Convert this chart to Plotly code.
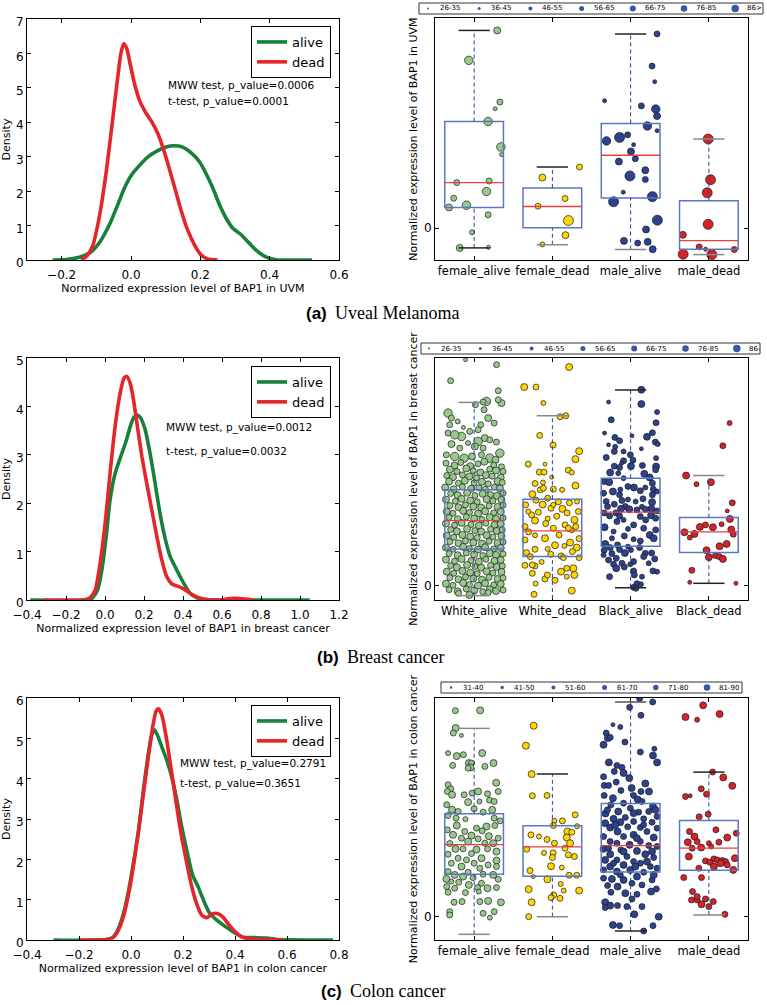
import plotly.graph_objects as go

W, H = 767, 1005

# ======================= DATA =======================
# --- Density curves (x = expression, y = density) ---
uvm_alive_x = [-0.226, -0.1875, -0.149, -0.120, -0.096, -0.077, -0.058, -0.038, -0.019, 0.0, 0.024, 0.048, 0.072, 0.101, 0.125, 0.149, 0.173, 0.197, 0.216, 0.236, 0.255, 0.274, 0.293, 0.317, 0.341, 0.365, 0.389, 0.418, 0.466, 0.522]
uvm_alive_y = [0, 0.01, 0.08, 0.20, 0.44, 0.74, 1.12, 1.61, 2.09, 2.45, 2.74, 2.99, 3.15, 3.28, 3.32, 3.28, 3.12, 2.86, 2.52, 2.09, 1.61, 1.22, 0.93, 0.74, 0.49, 0.25, 0.09, 0.01, 0, 0]
uvm_dead_x = [-0.144, -0.128, -0.111, -0.091, -0.072, -0.053, -0.038, -0.029, -0.021, -0.0125, -0.003, 0.0096, 0.024, 0.043, 0.0625, 0.077, 0.091, 0.106, 0.125, 0.144, 0.163, 0.183, 0.202, 0.221, 0.25]
uvm_dead_y = [0, 0.11, 0.40, 1.27, 2.52, 4.07, 5.33, 6.01, 6.28, 6.15, 5.72, 5.14, 4.65, 4.27, 3.97, 3.68, 3.30, 2.81, 2.14, 1.46, 0.88, 0.44, 0.15, 0.03, 0]

brca_alive_x = [-0.383, -0.110, -0.067, -0.038, -0.016, 0.006, 0.026, 0.052, 0.081, 0.108, 0.132, 0.149, 0.163, 0.180, 0.206, 0.231, 0.257, 0.282, 0.308, 0.334, 0.368, 0.402, 0.436, 0.470, 0.521, 0.623, 1.050]
brca_alive_y = [0, 0, 0.03, 0.21, 0.62, 1.31, 2.07, 2.62, 2.97, 3.28, 3.62, 3.78, 3.82, 3.78, 3.52, 3.03, 2.41, 1.79, 1.28, 0.90, 0.62, 0.36, 0.14, 0.05, 0.01, 0, 0]
brca_dead_x = [-0.315, -0.110, -0.076, -0.050, -0.025, 0.001, 0.026, 0.052, 0.078, 0.098, 0.112, 0.129, 0.146, 0.166, 0.189, 0.214, 0.240, 0.266, 0.291, 0.317, 0.343, 0.376, 0.411, 0.445, 0.479, 0.521, 0.589, 0.641, 0.692, 0.760]
brca_dead_y = [0, 0, 0.05, 0.21, 0.76, 1.59, 2.62, 3.59, 4.28, 4.59, 4.62, 4.48, 4.14, 3.59, 2.97, 2.41, 1.86, 1.31, 0.83, 0.48, 0.33, 0.28, 0.21, 0.12, 0.05, 0.01, 0, 0.03, 0.03, 0]

coad_alive_x = [-0.298, -0.093, -0.067, -0.048, -0.029, -0.010, 0.009, 0.029, 0.048, 0.067, 0.080, 0.089, 0.101, 0.118, 0.137, 0.156, 0.176, 0.195, 0.214, 0.237, 0.259, 0.281, 0.304, 0.329, 0.355, 0.380, 0.406, 0.432, 0.470, 0.521, 0.572, 0.777]
coad_alive_y = [0, 0.01, 0.08, 0.29, 0.66, 1.20, 1.90, 2.73, 3.73, 4.64, 5.09, 5.22, 5.09, 4.80, 4.47, 4.06, 3.48, 2.81, 2.24, 1.61, 1.31, 0.95, 0.65, 0.50, 0.37, 0.26, 0.15, 0.07, 0.06, 0.05, 0.01, 0]
coad_dead_x = [-0.195, -0.093, -0.067, -0.048, -0.029, -0.010, 0.009, 0.029, 0.048, 0.067, 0.084, 0.096, 0.105, 0.118, 0.135, 0.153, 0.172, 0.191, 0.212, 0.232, 0.252, 0.272, 0.291, 0.313, 0.332, 0.352, 0.374, 0.400, 0.425, 0.458, 0.521, 0.585]
coad_dead_y = [0, 0.01, 0.07, 0.25, 0.58, 1.12, 1.82, 2.69, 3.64, 4.55, 5.30, 5.67, 5.73, 5.59, 5.05, 4.30, 3.48, 2.69, 1.99, 1.37, 0.91, 0.62, 0.55, 0.65, 0.66, 0.58, 0.40, 0.21, 0.08, 0.03, 0.01, 0]

density_series = ["alive", "dead"]
uvm_tests = ["MWW test, p_value=0.0006", "t-test, p_value=0.0001"]
brca_tests = ["MWW test, p_value=0.0012", "t-test, p_value=0.0032"]
coad_tests = ["MWW test, p_value=0.2791", "t-test, p_value=0.3651"]

# --- Box plots: summary statistics (expression units) ---
uvm_categories = ["female_alive", "female_dead", "male_alive", "male_dead"]
uvm_q1 = [0.065, 0.001, 0.095, -0.066]
uvm_med = [0.143, 0.068, 0.229, -0.039]
uvm_q3 = [0.335, 0.126, 0.329, 0.086]
uvm_lo = [-0.062, -0.052, -0.067, -0.083]
uvm_hi = [0.621, 0.192, 0.610, 0.280]
uvm_age_bins = ["26-35", "36-45", "46-55", "56-65", "66-75", "76-85", "86>"]

brca_categories = ["White_alive", "White_dead", "Black_alive", "Black_dead"]
brca_q1 = [0.111, 0.088, 0.119, 0.100]
brca_med = [0.196, 0.165, 0.221, 0.162]
brca_q3 = [0.288, 0.260, 0.323, 0.205]
brca_lo = [-0.029, -0.060, -0.005, 0.008]
brca_hi = [0.550, 0.510, 0.587, 0.331]
brca_age_bins = ["26-35", "36-45", "46-55", "56-65", "66-75", "76-85", "86-"]

coad_categories = ["female_alive", "female_dead", "male_alive", "male_dead"]
coad_q1 = [0.127, 0.121, 0.134, 0.139]
coad_med = [0.216, 0.209, 0.213, 0.205]
coad_q3 = [0.308, 0.272, 0.339, 0.288]
coad_lo = [-0.053, 0.000, -0.043, 0.005]
coad_hi = [0.564, 0.427, 0.643, 0.433]
coad_age_bins = ["31-40", "41-50", "51-60", "61-70", "71-80", "81-90"]

# --- Individual samples: jitter (thousandths of a category slot), value (thousandths), age-bin index ---
uvm_fa_jit = [295, -68, 329, 269, 179, 342, 350, -222, 192, 158, -261, -98, -321, 179, -26, -184, 184]
uvm_fa_val = [621, 527, 396, 375, 335, 255, 231, 143, 148, 115, 94, 72, 65, 42, -13, -62, -60]
uvm_fa_age = "45315513353543241"
uvm_fd_jit = [346, -128, 162, -184, 205, 167, -128]
uvm_fd_val = [192, 159, 93, 69, 24, -22, -51]
uvm_fd_age = "3433642"
uvm_ma_jit = [338, 274, 308, -333, 137, 321, 338, 214, 338, -38, -141, -308, 38, 4, 60, -150, 188, -9, 188, -94, 278, -218, 342, 197, -85, 90, 218, 282]
uvm_ma_val = [610, 509, 460, 400, 384, 374, 352, 321, 306, 293, 285, 274, 262, 241, 218, 209, 182, 164, 153, 113, 99, 83, 25, -4, -40, -47, -43, -66]
uvm_ma_age = "3311354513651434463166644344"
uvm_md_jit = [-9, 21, -21, -9, -333, -124, -43, 325, -329, 38]
uvm_md_val = [280, 152, 111, 12, -21, -59, -66, -67, -82, -83]
uvm_md_age = "6666431366"

brca_wa_jit = [-110, 286, -300, 308, 158, 115, 350, 308, 17, 128, -333, -290, 180, -210, 256, -312, 85, -137, 51, -56, -333, -162, -248, 137, 200, 51, 286, -290, -77, 9, 115, -184, 329, -355, -248, -128, -26, 94, 200, 273,
               -360, -250, -170, -50, 50, 130, 250, 350, -310, -220, -100, -10, 80, 200, 280, 370,
               -350, -270, -150, -60, 30, 150, 230, 340, -320, -200, -120, 0, 100, 180, 300, 360,
               -370, -260, -150, -40, 60, 140, 260, 330, -300, -210, -90, 10, 110, 210, 290, 370,
               -360, -240, -160, -50, 40, 160, 240, 350, -310, -200, -110, -10, 90, 190, 300, 370,
               -350, -270, -140, -60, 50, 140, 250, 340, -320, -210, -100, 0, 100, 200, 280, 370,
               -360, -250, -160, -40, 60, 150, 260, 340, -300, -220, -90, 10, 90, 210, 290, 360,
               -350, -260, -150, -50, 40, 160, 240, 350, -310, -200, -110, -10, 100, 190, 300, 370,
               -360, -270, -140, -60, 50, 140, 250, 340, -320, -210, -100, 0, 110, 200, 280, 370,
               -360, -250, -160, -40, 60, 150, 260, 340, -300, -220, -90, 10, 90, 210, 290, 360,
               -350, -260, -150, -50, 40, 160, 240, 350, -310, -200, -110, -10, 100, 190, 300, 370,
               -360, -270, -140, -60, 50, 140, 250, 340, -320, -210, -100, 0, 110, 200, 280, 370,
               -60, -200, 180]
brca_wa_val = [678, 663, 615, 585, 553, 551, 548, 558, 543, 528, 518, 503, 503, 493, 488, 483, 483, 475, 468, 463, 458, 448, 453, 443, 438, 433, 431, 425, 428, 418, 413, 413, 398, 393, 388, 383, 388, 393, 383, 378,
               368, 361, 370, 359, 366, 372, 362, 357, 349, 343, 352, 345, 340, 350, 346, 343,
               331, 326, 333, 328, 324, 332, 329, 325, 313, 308, 315, 309, 312, 306, 314, 310,
               295, 290, 297, 291, 294, 288, 296, 292, 277, 272, 279, 271, 276, 274, 270, 278,
               259, 254, 261, 256, 252, 260, 255, 258, 241, 236, 243, 238, 235, 240, 237, 242,
               223, 218, 225, 220, 217, 224, 219, 222, 205, 200, 207, 202, 199, 206, 201, 204,
               187, 182, 189, 184, 181, 188, 183, 186, 169, 164, 171, 166, 163, 170, 165, 168,
               151, 146, 153, 148, 145, 152, 147, 150, 133, 128, 135, 130, 127, 134, 129, 132,
               115, 110, 117, 112, 109, 116, 111, 114, 97, 92, 99, 94, 91, 98, 93, 96,
               79, 74, 81, 76, 73, 80, 75, 78, 61, 56, 63, 58, 55, 62, 57, 60,
               43, 38, 45, 40, 37, 44, 39, 42, 25, 20, 27, 22, 19, 26, 21, 24,
               7, 2, 9, 4, 1, 8, 3, 6, -11, -16, -9, -14, -17, -10, -15, -12,
               -27, -22, -20]
brca_wa_age = ("1333534333534233313335543534243353554354"
               "3434343343434343" "3434343443434343" "4434343434434343" "4344343434344343"
               "4343443434343443" "4343434434434343" "4344343434344343" "4343443434343443"
               "4343434434434343" "4344343434344343" "4343443434343443" "433")

brca_wd_jit = [214, -359, -209, -115, 98, 171, -162, 9, 342, 295, -308, -94, -167, -107, 205, 248, -9, -222, -120, 295, 13, 124, -154, -115, -256, -209, -60, 77, 218, 316, -342, -124, -17, 128, -179, -265, 188, 333, 56, -60, -222, 282, -85, 162, -350, 13, 248, -303, 85, -222, -94, 342, -350, 226, 34, 154, -330, 312, -222, -60, 256, -21, 111, -282, 342, -350, -222, -137, -256, 184, 269, 111, 282, -94, 34, -214, 248, -235, -256, 184, -64, 141, 13, 205, -308, 299]
brca_wd_val = [656, 596, 596, 548, 507, 510, 451, 422, 404, 380, 365, 365, 341, 341, 347, 340, 326, 307, 310, 301, 290, 288, 288, 293, 275, 257, 263, 252, 249, 253, 243, 244, 233, 231, 221, 213, 219, 223, 209, 202, 196, 198, 187, 183, 178, 173, 167, 162, 153, 152, 143, 142, 138, 130, 122, 120, 100, 115, 110, 111, 103, 95, 90, 88, 85, 62, 60, 72, 63, 53, 53, 43, 33, 21, 17, 7, -14, -25, 38, 28, 33, 85, 243, 173, 223, 178]
brca_wd_age = "44323333443133321324323343333234343333324433332332433442343233333332334443324332332323"

brca_ba_jit = [137, 137, -282, 338, -248, 325, -333, 278, 17, 209, -201, -141, 316, 346, -282, -197, 137, -209, -90, -4, -312, -90, 30, 325, -115, -209, -141, 4, 150, 325, 320, -261, -158, 175, 244, -90, -338, -274, 278, -34, 43, 188, 290, -132, -226, 124, 338, -346, -141, 278, 158, -34, -312, -111, 64, 274, -209, -295, -68, 145, -124, -17, 265, 81, 188, 338, -338, -188, 262, -269, -141, 124, -90, 320, 192, -175, -333, 38, -34, 167, 320, -218, 244, -81, -239, 295, 38, 124, -325, -167, -34, -261, 115, -141, 4, -338, -73, -239, 188, 269, -346, 167, -184, 308, -282, 38, -111, -218, 231, -4, -81, -184, 286, 38, 338, 47, -269, 145, 81, 132, 38, 68]
brca_ba_val = [588, 545, 551, 521, 498, 489, 458, 459, 450, 447, 445, 435, 431, 425, 423, 417, 411, 403, 403, 393, 385, 375, 377, 383, 368, 359, 355, 359, 361, 358, 348, 340, 338, 336, 325, 323, 313, 311, 308, 298, 295, 295, 290, 289, 283, 285, 283, 278, 273, 273, 261, 259, 253, 256, 253, 251, 245, 238, 238, 237, 231, 230, 231, 228, 230, 225, 219, 219, 212, 210, 210, 208, 198, 203, 198, 193, 176, 183, 171, 173, 168, 163, 153, 150, 143, 143, 140, 135, 126, 123, 118, 115, 115, 109, 108, 107, 99, 97, 98, 99, 93, 88, 83, 81, 78, 73, 68, 65, 68, 65, 57, 53, 45, 45, 43, 33, 28, 28, 7, 5, -4, -7]
brca_ba_age = ("4412331314" "3332121323" "3332133434" "3424423433" "4232432333" "3233243332"
               "4443333343" "3323334323" "3243242343" "2333234333" "2333333322" "3433233232" "33")

brca_bd_jit = [265, 179, -291, -158, 26, 299, 235, 269, 162, -115, -43, 51, 286, -312, -184, 312, -244, 227, 137, -30, 85, 0, 132, 179, -218, -244, 346]
brca_bd_val = [488, 420, 331, 305, 311, 249, 225, 201, 185, 177, 183, 176, 169, 161, 156, 155, 145, 126, 119, 107, 91, 86, 88, 81, 47, 11, 8]
brca_bd_age = "234243142434444324443434311"

coad_fa_jit = [-239, 77, -235, -265, -162, -333, -222, -137, 103, -68, -34, 248, -274, 137, -47, -77, 282, -333, -299, -342, -282, -128, -26, 51, 171, 308, -350, -77, 197, 68, 256, -282, -205, 115, 231, 0, -333, -231, -111, 256, 333, -222, 30, 158, 265, -342, -120, 103, -269, -34, 188, -162, 51, 308, -312, -77, 137, 244, -239, -141, 30, 171, 286, -333, -34, -205, 94, 286, -98, -291, 0, 179, -162, 73, 286, -333, -77, -248, 115, -141, -13, 244, -355, 308, -291, -197, 94, -68, -350, 43, -248, 171, 286, -333, -111, 60, -256, -154, 73, 179, 342, -312, 256, 115, 201, -312, -269, -107, -51, 188]
coad_fa_val = [617, 618, 565, 550, 543, 490, 481, 485, 490, 460, 460, 460, 453, 450, 447, 445, 401, 395, 383, 375, 365, 365, 370, 375, 368, 375, 335, 343, 349, 345, 345, 320, 315, 313, 320, 323, 303, 295, 292, 295, 287, 273, 265, 270, 273, 260, 255, 257, 245, 243, 241, 235, 233, 235, 219, 225, 220, 220, 203, 203, 201, 203, 195, 187, 189, 175, 175, 168, 170, 160, 160, 155, 150, 145, 150, 135, 133, 125, 127, 120, 117, 125, 113, 112, 105, 103, 100, 95, 90, 87, 85, 85, 87, 73, 72, 75, 43, 45, 45, 47, 43, 15, 15, 10, -3, 5, -35, -35, -25, -51]
coad_fa_age = "3443124344343343433343343334323433433323343433334443333434434343334433334333343434432334333433323334433323"

coad_fd_jit = [-239, -338, -265, -256, -68, 291, 26, 128, 13, 316, -274, -171, -68, 192, 248, 184, 26, 226, -329, 162, -107, 9, 205, 0, 282, -17, 120, -286, 214, 312, -244, -64, 107, -303, 145, 342, 17, -17, 98, -265, -303]
coad_fd_val = [572, 512, 427, 362, 363, 305, 287, 287, 273, 271, 245, 240, 231, 255, 253, 237, 220, 220, 202, 205, 191, 191, 185, 177, 180, 151, 147, 138, 124, 124, 120, 112, 98, 82, 78, 78, 65, 57, 55, 43, 0]
coad_fd_age = "44433323323234343433233334233314242433343"

coad_ma_jit = [115, 282, -13, 132, -226, -132, -312, -291, -261, -73, -346, 303, 124, 286, 338, -278, -175, -111, -209, -90, -346, -17, -184, 188, -338, -282, 13, -124, 132, 235, -338, 38, -226, 90, -90, 145, 286, -252, -4, 231, -158, -321, 103, 338, -68, -218, 167, -132, 38, 274, -325, -38, -261, 124, 338, -167, 209, 38, -346, -90, 295, -261, 124, -175, -13, 231, 338, -346, -124, 81, -261, 188, -47, 295, -325, -175, 38, 124, -90, -261, 252, 338, -346, -4, -175, 167, 81, -346, -239, -90, 274, 17, -295, 145, -167, 329, 261, -252, -68, 81, 17, -325, -167, -261, -47, -325, 145, 47, -226, -141, 286, 167, 359, -295, 38, 316, -197, 167, 81, -282, 274, -90, -218, 209, 60, -132, 295, -261, 209]
coad_ma_val = [653, 643, 627, 603, 575, 568, 550, 535, 537, 523, 515, 503, 493, 483, 462, 462, 453, 447, 435, 430, 419, 415, 403, 399, 393, 393, 385, 378, 375, 375, 363, 363, 355, 351, 340, 345, 330, 335, 325, 315, 315, 309, 313, 300, 297, 293, 293, 283, 285, 283, 280, 269, 267, 267, 265, 255, 255, 245, 240, 240, 237, 225, 225, 220, 215, 213, 210, 203, 200, 197, 187, 187, 180, 177, 170, 170, 165, 160, 155, 150, 150, 145, 140, 140, 135, 133, 120, 115, 113, 110, 110, 100, 93, 95, 90, 83, 75, 73, 70, 67, 53, 43, 33, 33, 30, 27, 30, 7, -25, -27, -27, -43, 0, 320, 310, 320, 275, 275, 235, 205, 195, 195, 160, 165, 150, 125, 125, 100, 105]
coad_ma_age = "3333123433423444333434343343343344334333443334343343433434334333433434443343334433344343443333434343343433344333434443434434434"

coad_md_jit = [-73, 137, -299, -150, 47, 184, 299, -98, -30, -299, -239, -9, -124, 90, 350, -248, 235, -184, -150, -269, 128, -214, -98, 0, 30, -256, 333, 64, -43, 107, 171, 214, 13, 149, -128, 64, 235, 312, -321, -94, -209, -222, -150, -43, 56, -94, 0, 205, -150]
coad_md_val = [633, 607, 598, 590, 433, 417, 392, 383, 367, 360, 362, 307, 299, 260, 250, 255, 237, 240, 225, 223, 223, 205, 207, 220, 210, 180, 175, 173, 167, 170, 168, 165, 163, 160, 145, 150, 155, 140, 117, 117, 75, 50, 50, 53, 45, 37, 30, 7, 60]
coad_md_age = "4442344333133333443433422443333334343433333334333"

# ======================= STYLE =======================
FONT = "DejaVu Sans"
GREEN_LINE = "#17803d"
RED_LINE = "#e4262b"
GROUP_COLORS = ["#98c98c", "#ffd400", "#2d4290", "#d8222a"]
POINT_SIZES = [3, 4, 5, 6, 7, 8.5, 10]
BOX_COLOR = "#5a78c0"
WHISKER_COLOR = "#2a3f8f"
MEDIAN_COLOR = "#e8403c"
LEGEND_DOT = "#3a55a5"

LEFT_X = [27 / W, 339 / W]
RIGHT_X = [435 / W, 748 / W]
ROWS = [(19, 260), (358, 600), (698, 940)]


def ydom(top, bottom):
    return [1 - bottom / H, 1 - top / H]


fig = go.Figure()

axis_common = dict(showline=True, linecolor="black", linewidth=1, mirror="ticks",
                   ticks="inside", ticklen=4, tickcolor="black", showgrid=False,
                   zeroline=False, automargin=False,
                   tickfont=dict(family=FONT, size=12, color="black"))

layout = dict(width=W, height=H, margin=dict(l=0, r=0, t=0, b=0, autoexpand=False),
              paper_bgcolor="white", plot_bgcolor="white",
              font=dict(family=FONT, color="black"), showlegend=True)

density_panels = [
    ("UVM", uvm_alive_x, uvm_alive_y, uvm_dead_x, uvm_dead_y, [-0.3, 0.6], [-0.2, 0.0, 0.2, 0.4, 0.6], [0, 7], uvm_tests, (0.101, 5.08, 4.61)),
    ("breast cancer", brca_alive_x, brca_alive_y, brca_dead_x, brca_dead_y, [-0.4, 1.2], [-0.4, -0.2, 0.0, 0.2, 0.4, 0.6, 0.8, 1.0, 1.2], [0, 5], brca_tests, (0.303, 3.56, 3.06)),
    ("colon cancer", coad_alive_x, coad_alive_y, coad_dead_x, coad_dead_y, [-0.4, 0.8], [-0.4, -0.2, 0.0, 0.2, 0.4, 0.6, 0.8], [0, 6], coad_tests, (0.182, 4.38, 3.87)),
]
legend_tops = [26, 366, 705]

annotations = []
shapes = []

for k, (name, ax_, ay_, dx_, dy_, xr, xt, yr, tests, tpos) in enumerate(density_panels):
    n = 2 * k + 1
    xa = "x" if n == 1 else f"x{n}"
    ya = "y" if n == 1 else f"y{n}"
    leg = "legend" if k == 0 else f"legend{k + 1}"
    for sname, xs, ys, col in [(density_series[0], ax_, ay_, GREEN_LINE), (density_series[1], dx_, dy_, RED_LINE)]:
        fig.add_trace(go.Scatter(x=xs, y=ys, mode="lines", name=sname,
                                 line=dict(color=col, width=3.6, shape="spline", smoothing=0.6),
                                 xaxis=xa, yaxis=ya, legend=leg, hoverinfo="skip"))
    top, bottom = ROWS[k]
    layout["xaxis" if n == 1 else f"xaxis{n}"] = dict(
        axis_common, domain=LEFT_X, anchor=ya, range=xr, tickvals=xt, tickformat=".1f",
        ticklabelstandoff=4,
        title=dict(text=f"Normalized expression level of BAP1 in {name}", font=dict(family=FONT, size=11), standoff=0))
    layout["yaxis" if n == 1 else f"yaxis{n}"] = dict(
        axis_common, domain=ydom(top, bottom), anchor=xa, range=yr, dtick=1, ticklabelshift=3,
        title=dict(text="Density", font=dict(family=FONT, size=11), standoff=4))
    layout[leg] = dict(x=251 / W, y=1 - legend_tops[k] / H, xanchor="left", yanchor="top",
                       bordercolor="black", borderwidth=1, bgcolor="white",
                       font=dict(family=FONT, size=13), itemwidth=30, tracegroupgap=0)
    for text, yv in zip(tests, tpos[1:]):
        annotations.append(dict(x=tpos[0], y=yv, xref=xa, yref=ya, text=text, showarrow=False,
                                xanchor="left", yanchor="middle", font=dict(family=FONT, size=10.5)))

box_panels = [
    (uvm_categories, uvm_q1, uvm_med, uvm_q3, uvm_lo, uvm_hi,
     [(uvm_fa_jit, uvm_fa_val, uvm_fa_age), (uvm_fd_jit, uvm_fd_val, uvm_fd_age),
      (uvm_ma_jit, uvm_ma_val, uvm_ma_age), (uvm_md_jit, uvm_md_val, uvm_md_age)],
     [-0.1, 0.66], "UVM", uvm_age_bins,
     [("#222", "#222"), ("#222", "#888"), ("#222", "#888"), ("#888", "#888")]),
    (brca_categories, brca_q1, brca_med, brca_q3, brca_lo, brca_hi,
     [(brca_wa_jit, brca_wa_val, brca_wa_age), (brca_wd_jit, brca_wd_val, brca_wd_age),
      (brca_ba_jit, brca_ba_val, brca_ba_age), (brca_bd_jit, brca_bd_val, brca_bd_age)],
     [-0.042, 0.683], "breast cancer", brca_age_bins,
     [("#888", "#888"), ("#888", None), ("#222", "#222"), ("#888", "#222")]),
    (coad_categories, coad_q1, coad_med, coad_q3, coad_lo, coad_hi,
     [(coad_fa_jit, coad_fa_val, coad_fa_age), (coad_fd_jit, coad_fd_val, coad_fd_age),
      (coad_ma_jit, coad_ma_val, coad_ma_age), (coad_md_jit, coad_md_val, coad_md_age)],
     [-0.07, 0.655], "colon cancer", coad_age_bins,
     [("#888", "#888"), ("#222", "#888"), ("#555", "#222"), ("#222", "#888")]),
]

# age legend geometry (pixels): box, first marker x, step, legend marker diameters
age_legend_geo = [
    ((419, 3, 763, 14), 428, 51.2, [2, 3, 4, 5, 6, 6.5, 7.5]),
    ((421, 343, 760, 354), 429, 51.3, [2, 3, 4, 5, 6, 6.5, 7.5]),
    ((441, 682, 742, 693), 451, 51.2, [2.5, 3.5, 4, 5, 5.5, 6.5]),
]

for k, (cats, q1, med, q3, lo, hi, groups, yr, name, bins, capcols) in enumerate(box_panels):
    n = 2 * k + 2
    xa, ya = f"x{n}", f"y{n}"
    for i, (jit, val, age) in enumerate(groups):
        pos = i + 1
        fig.add_trace(go.Scatter(
            x=[pos + j / 1000 for j in jit], y=[v / 1000 for v in val], mode="markers",
            marker=dict(size=[POINT_SIZES[int(a)] for a in age], color=GROUP_COLORS[i], opacity=1,
                        line=dict(color="#1a1a1a", width=0.7)),
            xaxis=xa, yaxis=ya, showlegend=False, hoverinfo="skip"))
        hw, cw = 0.375, 0.2
        shapes.append(dict(type="rect", xref=xa, yref=ya, x0=pos - hw, x1=pos + hw, y0=q1[i], y1=q3[i],
                           line=dict(color=BOX_COLOR, width=1.5), fillcolor="rgba(0,0,0,0)"))
        shapes.append(dict(type="line", xref=xa, yref=ya, x0=pos - hw, x1=pos + hw, y0=med[i], y1=med[i],
                           line=dict(color=MEDIAN_COLOR, width=1.3)))
        shapes.append(dict(type="line", xref=xa, yref=ya, x0=pos, x1=pos, y0=q3[i], y1=hi[i],
                           line=dict(color=WHISKER_COLOR, width=1, dash="4px,3px")))
        shapes.append(dict(type="line", xref=xa, yref=ya, x0=pos, x1=pos, y0=lo[i], y1=q1[i],
                           line=dict(color=WHISKER_COLOR, width=1, dash="4px,3px")))
        ct, cb = capcols[i]
        shapes.append(dict(type="line", xref=xa, yref=ya, x0=pos - cw, x1=pos + cw, y0=hi[i], y1=hi[i],
                           line=dict(color=ct, width=1.5)))
        if cb:
            shapes.append(dict(type="line", xref=xa, yref=ya, x0=pos - cw, x1=pos + cw, y0=lo[i], y1=lo[i],
                               line=dict(color=cb, width=1.5)))
    top, bottom = ROWS[k]
    layout[f"xaxis{n}"] = dict(axis_common, domain=RIGHT_X, anchor=ya, range=[0.5, 4.5],
                               tickvals=[1, 2, 3, 4], ticktext=cats,
                               tickfont=dict(family=FONT, size=11.5, color="black"))
    layout[f"yaxis{n}"] = dict(axis_common, domain=ydom(top - (1 if k == 0 else 0), bottom), anchor=xa, range=yr,
                               tickvals=[0], ticktext=["0"],
                               title=dict(text=f"Normalized expression level of BAP1 in {name}",
                                          font=dict(family=FONT, size=11), standoff=4))
    # age legend (decoration)
    (bx0, by0, bx1, by1), mx0, step, dsz = age_legend_geo[k]
    shapes.append(dict(type="rect", xref="paper", yref="paper", x0=bx0 / W, x1=bx1 / W,
                       y0=1 - by1 / H, y1=1 - by0 / H, line=dict(color="#333", width=1),
                       fillcolor="white", layer="above"))
    cy = 1 - (by0 + by1) / 2 / H
    for j, lab in enumerate(bins):
        mx = mx0 + j * step
        r = dsz[j] / 2
        shapes.append(dict(type="circle", xref="paper", yref="paper", xsizemode="pixel", ysizemode="pixel",
                           xanchor=mx / W, yanchor=cy, x0=-r, x1=r, y0=-r, y1=r,
                           fillcolor=LEGEND_DOT, line=dict(width=0), layer="above"))
        annotations.append(dict(x=(mx + 11) / W, y=cy, xref="paper", yref="paper", text=lab,
                                showarrow=False, xanchor="left", yanchor="middle",
                                font=dict(family=FONT, size=7), borderpad=0))

# captions
captions = [("(a)", "Uveal Melanoma", 313, 328, 334), ("(b)", "Breast cancer", 657, 340, 346), ("(c)", "Colon cancer", 991, 343, 349)]
for tag, txt, cyp, xr_, xl_ in captions:
    annotations.append(dict(x=xr_ / W, y=1 - cyp / H, xref="paper", yref="paper", text=f"<b>{tag}</b>",
                            showarrow=False, xanchor="right", yanchor="middle", borderpad=0,
                            font=dict(family="Liberation Sans", size=17)))
    annotations.append(dict(x=xl_ / W, y=1 - cyp / H, xref="paper", yref="paper", text=txt,
                            showarrow=False, xanchor="left", yanchor="middle", borderpad=0,
                            font=dict(family="Liberation Serif", size=18)))

layout["annotations"] = annotations
layout["shapes"] = shapes
fig.update_layout(**layout)
fig.write_html("out.html", config={"displayModeBar": False},
               post_script="document.body.style.margin='0';document.body.style.overflow='hidden';")
